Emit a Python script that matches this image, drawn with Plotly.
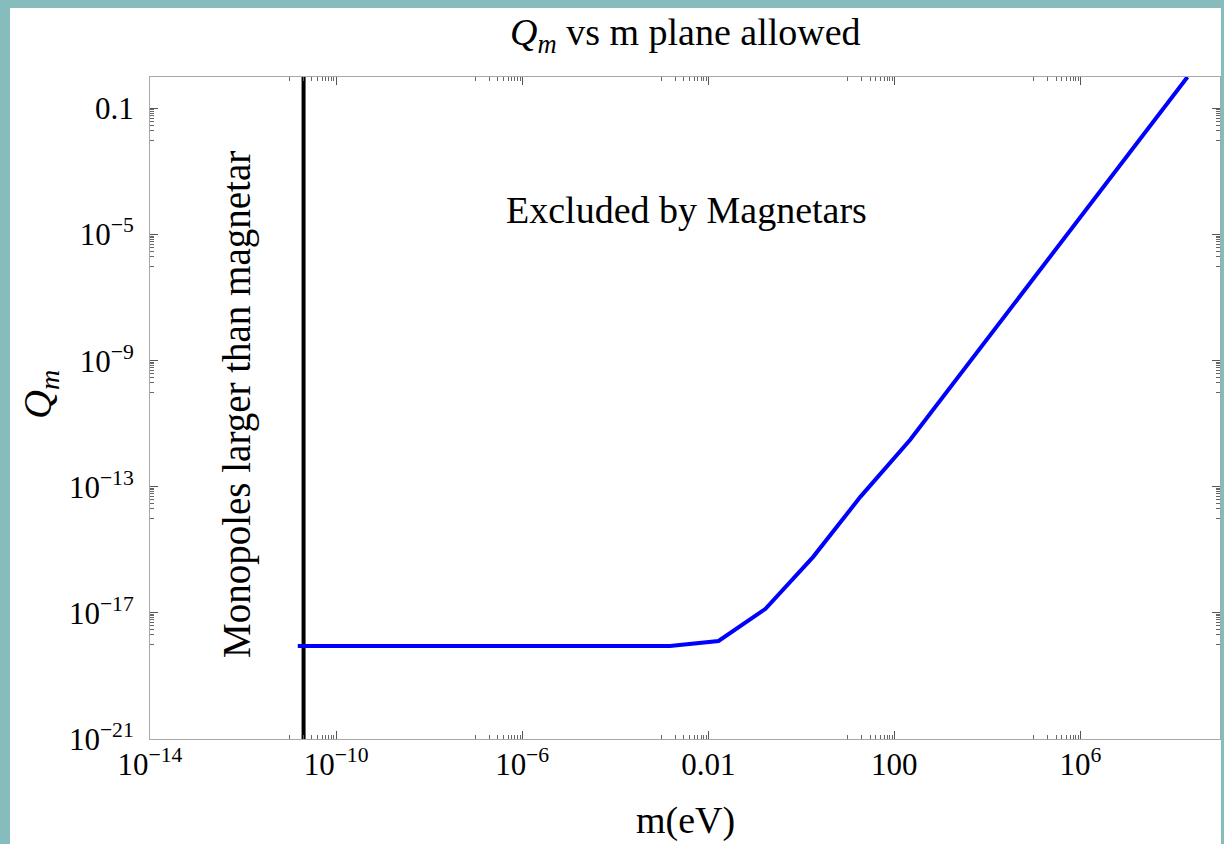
import plotly.graph_objects as go

# ---- data ----
mass_eV = [1.5e-11, 1.5e-3, 1.66e-2, 0.17, 1.8, 18.6, 219, 2.0e8]
Qm_bound = [8.9e-19, 8.9e-19, 1.29e-18, 1.35e-17, 6.0e-16, 4.8e-14, 3.1e-12, 1.0]
magnetar_size_mass = 2.0e-11

x_tickvals = [1e-14, 1e-10, 1e-6, 1e-2, 1e2, 1e6]
x_ticktext = ["10<sup>\u221214</sup>", "10<sup>\u221210</sup>", "10<sup>\u22126</sup>", "0.01", "100", "10<sup>6</sup>"]
y_tickvals = [1e-1, 1e-5, 1e-9, 1e-13, 1e-17, 1e-21]
y_ticktext = ["0.1", "10<sup>\u22125</sup>", "10<sup>\u22129</sup>", "10<sup>\u221213</sup>", "10<sup>\u221217</sup>", "10<sup>\u221221</sup>"]

x_minor = [k * v / 10 for v in x_tickvals[1:] for k in range(1, 10)]
y_minor = [k * v / 10 for v in y_tickvals[:-1] for k in range(1, 10)]

FONT = "Liberation Serif"

fig = go.Figure()
fig.add_trace(go.Scatter(x=[magnetar_size_mass, magnetar_size_mass], y=[1e-21, 1.0],
                         mode="lines", line=dict(color="black", width=4),
                         cliponaxis=False, showlegend=False))
fig.add_trace(go.Scatter(x=mass_eV, y=Qm_bound, mode="lines",
                         line=dict(color="#0000ff", width=4), showlegend=False))

L, R, T, B = 150, 1220, 77, 739
W, H = R - L, B - T
def px(p):
    return (p - L) / W
def py(q):
    return (B - q) / H

axis_common = dict(
    type="log", showline=True, linecolor="#a8a8a8", linewidth=1, mirror="ticks",
    ticks="inside", ticklen=8, tickwidth=1, tickcolor="#555555",
    showgrid=False, zeroline=False, tickmode="array",
    tickfont=dict(family=FONT, size=31, color="black"),
)

fig.update_layout(
    width=1224, height=844,
    margin=dict(l=L, r=1224 - R, t=T, b=844 - B),
    paper_bgcolor="#86bcbc", plot_bgcolor="white",
    xaxis=dict(axis_common, range=[-14, 9], tickvals=x_tickvals, ticktext=x_ticktext,
               ticklabelstandoff=-2,
               minor=dict(tickvals=x_minor, ticks="inside", ticklen=4, tickcolor="#666666", tickwidth=1)),
    yaxis=dict(axis_common, range=[-21, 0], tickvals=y_tickvals, ticktext=y_ticktext,
               ticklabelstandoff=9,
               minor=dict(tickvals=y_minor, ticks="inside", ticklen=4, tickcolor="#666666", tickwidth=1)),
    shapes=[dict(type="rect", xref="paper", yref="paper", layer="below",
                 x0=px(10), x1=px(1221), y0=py(8), y1=py(850),
                 fillcolor="white", line=dict(width=0))],
    annotations=[
        dict(text="<i>Q</i><sub><i>m</i></sub> vs m plane allowed", xref="paper", yref="paper",
             x=0.5, y=py(35), showarrow=False, xanchor="center", yanchor="middle",
             font=dict(family=FONT, size=38, color="black")),
        dict(text="m(eV)", xref="paper", yref="paper", x=0.5, y=py(820), showarrow=False,
             xanchor="center", yanchor="middle", font=dict(family=FONT, size=38, color="black")),
        dict(text="<i>Q</i><sub><i>m</i></sub>", xref="paper", yref="paper", x=px(40), y=py(395),
             showarrow=False, textangle=-90, xanchor="center", yanchor="middle",
             font=dict(family=FONT, size=40, color="black")),
        dict(text="Excluded by Magnetars", xref="paper", yref="paper", x=px(686), y=py(210),
             showarrow=False, xanchor="center", yanchor="middle",
             font=dict(family=FONT, size=38, color="black")),
        dict(text="Monopoles larger than magnetar", xref="paper", yref="paper", x=px(237), y=py(405),
             showarrow=False, textangle=-90, xanchor="center", yanchor="middle",
             font=dict(family=FONT, size=39, color="black")),
    ],
)

fig.write_html("out.html", config={"displayModeBar": False},
               post_script="document.body.style.margin='0';document.body.style.padding='0';")
